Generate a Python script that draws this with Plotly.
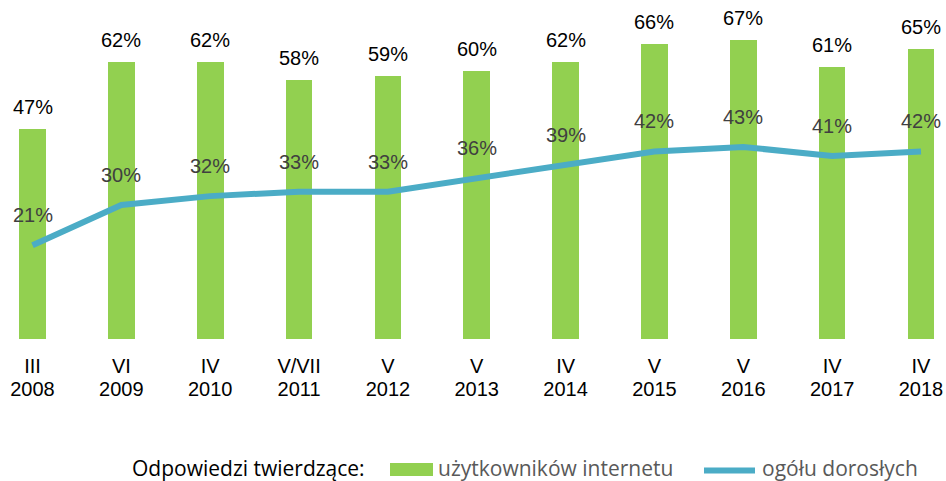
import plotly.graph_objects as go

months = ["III", "VI", "IV", "V/VII", "V", "V", "IV", "V", "V", "IV", "IV"]
years = ["2008", "2009", "2010", "2011", "2012", "2013", "2014", "2015", "2016", "2017", "2018"]
internet_users = [47, 62, 62, 58, 59, 60, 62, 66, 67, 61, 65]
all_adults = [21, 30, 32, 33, 33, 36, 39, 42, 43, 41, 42]

legend_title = "Odpowiedzi twierdzące:"
name_bars = "użytkowników internetu"
name_line = "ogółu dorosłych"

W, H = 946, 481
TOP, BASE = 20, 339
GREEN = "#92D050"
BLUE = "#4BACC6"
LABEL_FONT = "Liberation Sans, Arial"

x = list(range(len(years)))

fig = go.Figure()
fig.add_trace(go.Bar(x=x, y=internet_users, marker=dict(color=GREEN, line=dict(width=0)),
                     width=0.30, name=name_bars, showlegend=False, hoverinfo="skip"))
fig.add_trace(go.Scatter(x=x, y=all_adults, mode="lines", name=name_line,
                         line=dict(color=BLUE, width=6), showlegend=False, hoverinfo="skip"))
# helper trace so the second (year) axis is drawn
fig.add_trace(go.Scatter(x=x, y=all_adults, mode="none", xaxis="x2", showlegend=False,
                         hoverinfo="skip"))

ann = []
for xi, v in zip(x, internet_users):
    ann.append(dict(x=xi, y=v, text=f"{v}%", showarrow=False, yanchor="middle", yshift=22,
                    font=dict(family=LABEL_FONT, size=20, color="#000000")))
for xi, v in zip(x, all_adults):
    ann.append(dict(x=xi, y=v, text=f"{v}%", showarrow=False, yanchor="middle", yshift=30,
                    font=dict(family=LABEL_FONT, size=20, color="#404040")))

def px(xp):
    return xp / W

def py(yp):
    return (BASE - yp) / (BASE - TOP)

LEG_Y = 468
LEG_FONT = "Open Sans"
ann.append(dict(xref="paper", yref="paper", x=px(130), y=py(LEG_Y), xanchor="left", yanchor="middle",
                text=legend_title, showarrow=False,
                font=dict(family=LEG_FONT, size=21, color="#000000")))
ann.append(dict(xref="paper", yref="paper", x=px(436), y=py(LEG_Y), xanchor="left", yanchor="middle",
                text=name_bars, showarrow=False,
                font=dict(family=LEG_FONT, size=21, color="#595959")))
ann.append(dict(xref="paper", yref="paper", x=px(760), y=py(LEG_Y), xanchor="left", yanchor="middle",
                text=name_line, showarrow=False,
                font=dict(family=LEG_FONT, size=21, color="#595959")))

shapes = [
    dict(type="rect", xref="paper", yref="paper", x0=px(390), x1=px(433), y0=py(476), y1=py(463),
         fillcolor=GREEN, line=dict(width=0)),
    dict(type="line", xref="paper", yref="paper", x0=px(704), x1=px(755), y0=py(470.5), y1=py(470.5),
         line=dict(color=BLUE, width=6)),
]

ppu = 88.85
x0 = -32.5 / ppu
x1 = x0 + W / ppu
ymax = (BASE - TOP) / 4.465

axis_common = dict(range=[x0, x1], tickmode="array", tickvals=x,
                   showgrid=False, zeroline=False, showline=False, ticks="",
                   tickfont=dict(family=LABEL_FONT, size=20, color="#000000"))

fig.update_layout(
    width=W, height=H,
    margin=dict(l=0, r=0, t=TOP, b=H - BASE),
    paper_bgcolor="white", plot_bgcolor="white",
    annotations=ann, shapes=shapes,
    xaxis=dict(ticktext=months, ticklabelstandoff=13, **axis_common),
    xaxis2=dict(ticktext=years, overlaying="x", side="bottom", anchor="y",
                ticklabelstandoff=36, **axis_common),
    yaxis=dict(range=[0, ymax], visible=False, showgrid=False, zeroline=False),
    showlegend=False,
    bargap=0,
)

fig.write_html("out.html", config={"displayModeBar": False},
               post_script="document.body.style.margin='0';document.body.style.overflow='hidden';")
